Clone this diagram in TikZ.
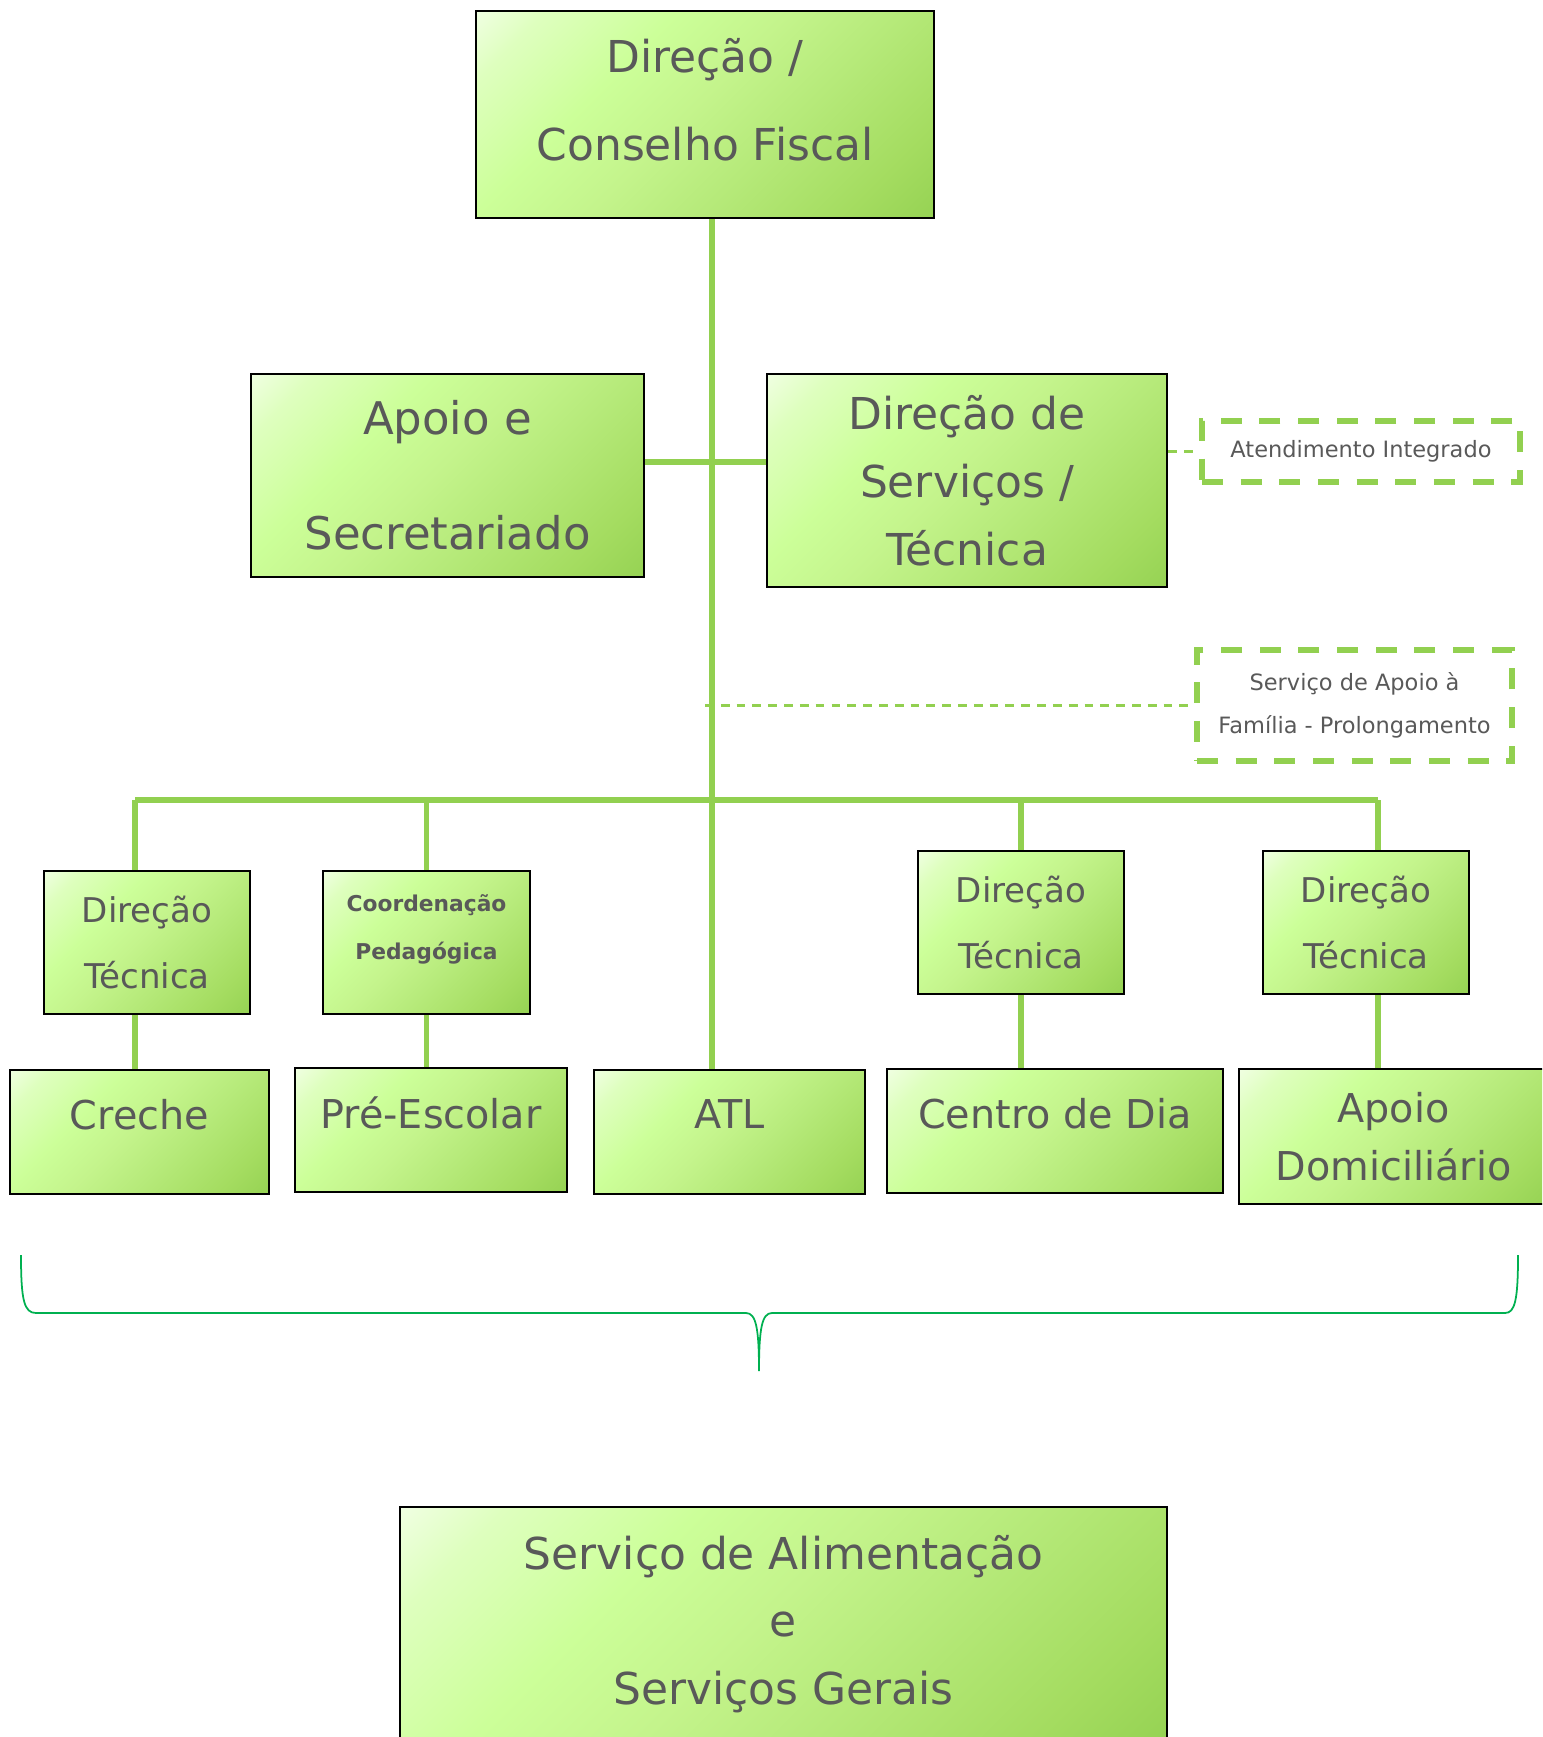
\documentclass[tikz,border=0pt]{standalone}
\usepackage{fontspec}
\setmainfont{DejaVu Sans}
\setsansfont{DejaVu Sans}
\usepackage{xcolor}
\definecolor{lineGreen}{HTML}{92D050}
\definecolor{braceGreen}{HTML}{00B050}
\definecolor{boxLight}{HTML}{F6FFEE}
\definecolor{boxSoft}{HTML}{DEFFBE}
\definecolor{boxPale}{HTML}{CCFF99}
\definecolor{boxMid}{HTML}{C4F48C}
\definecolor{boxLow}{HTML}{B6EA7A}
\definecolor{boxDeep}{HTML}{A4DC60}
\definecolor{boxDark}{HTML}{92D050}
\definecolor{darkText}{HTML}{595959}
\usepackage{tikz}
\usetikzlibrary{calc}
% diagonal fade of the boxes, white corner top left
\pgfdeclareverticalshading{boxfade}{100bp}{color(0bp)=(boxDark); color(12bp)=(boxDark);
    color(24bp)=(boxDeep); color(40bp)=(boxLow); color(52bp)=(boxMid);
    color(64bp)=(boxPale); color(78bp)=(boxSoft); color(88bp)=(boxLight);
    color(100bp)=(boxLight)}
\tikzset{
    % Base style for all boxes
    unit base/.style={
        rectangle,
        align=center,
        text=darkText,
        inner sep=0pt,
    },
    % Green gradient boxes
    unit/.style={
        unit base,
        draw=black,
        line width=0.8pt,
        shade,
        shading=boxfade,
        shading angle=45,
    },
    % Dashed boxes without fill
    side unit/.style={
        unit base,
        draw=lineGreen,
        line width=1.5pt,
        dash pattern=on 6pt off 5pt,
        font=\fontsize{6.4}{12.3}\selectfont,
    },
    % Box size in page pixels (0.1mm each)
    box size/.style 2 args={
        minimum width=#1*0.1mm,
        minimum height=#2*0.1mm,
    },
    % Single line text sitting high in its box
    high text/.style={text depth=10pt},
    % Plain connector
    link/.style={
        draw=lineGreen,
        line width=1.5pt,
    },
    % Dashed connector
    link dashed/.style={
        draw=lineGreen,
        line width=0.6pt,
        dash pattern=on 2.5pt off 2pt,
    },
    % Brace under the services
    brace line/.style={
        draw=braceGreen,
        line width=0.5pt,
    },
}

\begin{document}
\begin{tikzpicture}[x=0.1mm, y=-0.1mm]
    \useasboundingbox (0,0) rectangle (1542,1737);
    \clip (0,0) rectangle (1542,1737);

    % top levels
    \node (top) [unit, box size={458}{207}, font=\fontsize{12.5}{25}\selectfont] at (705,114.5) {Direção /\\Conselho Fiscal\\[-16.2pt]};
    \node (apoio) [unit, box size={393}{203}, font=\fontsize{12.8}{32.7}\selectfont] at (447.5,475.5) {Apoio e\\Secretariado};
    \node (dirserv) [unit, box size={400}{213}, font=\fontsize{12.5}{19.3}\selectfont] at (967,480.5) {Direção de\\Serviços /\\Técnica};
    \node (atend) [side unit, box size={318}{61}] at (1361,451.5) {Atendimento Integrado};
    \node (servico) [side unit, box size={315}{111}] at (1354.5,705.5) {Serviço de Apoio à\\Família - Prolongamento};

    % technical directions
    \node (dt1) [unit, box size={206}{143}, font=\fontsize{9.7}{18.8}\selectfont] at (147,942.5) {Direção\\Técnica};
    \node (pedag) [unit, box size={207}{143}, font=\bfseries\fontsize{6.2}{13.6}\selectfont] at (426.5,942.5) {Coordenação\\Pedagógica\\[-4.8pt]};
    \node (dt3) [unit, box size={206}{143}, font=\fontsize{9.7}{18.8}\selectfont] at (1021,922.5) {Direção\\Técnica};
    \node (dt4) [unit, box size={206}{143}, font=\fontsize{9.7}{18.8}\selectfont] at (1366,922.5) {Direção\\Técnica};

    % services
    \node (creche) [unit, box size={259}{124}, font=\fontsize{11.3}{16.5}\selectfont, high text] at (139.5,1132) {Creche};
    \node (preesc) [unit, box size={272}{124}, font=\fontsize{11.3}{16.5}\selectfont, high text] at (431,1130) {Pré-Escolar};
    \node (atl) [unit, box size={271}{124}, font=\fontsize{11.3}{16.5}\selectfont, high text] at (729.5,1132) {ATL};
    \node (centro) [unit, box size={336}{124}, font=\fontsize{11.3}{16.5}\selectfont, high text] at (1055,1131) {Centro de Dia};
    \node (apoiodom) [unit, box size={309}{135}, font=\fontsize{11.3}{16.5}\selectfont] at (1393.5,1136.5) {Apoio\\Domiciliário};

    % shared services
    \node (geral) [unit, box size={767}{234}, font=\fontsize{12.5}{19.3}\selectfont] at (783.5,1624) {Serviço de Alimentação\\e\\Serviços Gerais};

    % junctions
    \coordinate (trunk) at (712,800);
    \coordinate (mid) at (712,462);
    \coordinate (c1) at (135,800);
    \coordinate (c5) at (1378,800);

    \draw [link] (top.south -| trunk) -- (atl.north -| trunk);
    \draw [link] (apoio.east |- mid) -- (dirserv.west |- mid);
    \draw [link] (c1) -- (c5);
    \draw [link] (c1) -- (dt1.north -| c1);
    \draw [link] (dt1.south -| c1) -- (creche.north -| c1);
    \draw [link] (pedag.north |- c1) -- (pedag.north);
    \draw [link] (pedag.south) -- (pedag.south |- preesc.north);
    \draw [link] (dt3.north |- c1) -- (dt3.north);
    \draw [link] (dt3.south) -- (dt3.south |- centro.north);
    \draw [link] (c5) -- (dt4.north -| c5);
    \draw [link] (dt4.south -| c5) -- (apoiodom.north -| c5);
    \draw [link dashed] (dirserv.east |- atend.west) -- (atend.west);
    \draw [link dashed] ([xshift=-2pt]servico.west -| trunk) -- (servico.west);

    % brace
    \draw [brace line] (21,1255) .. controls (21,1300) and (24,1313) .. (36,1313)
        -- (746,1313) .. controls (756,1313) and (759,1328) .. (759,1371)
        .. controls (759,1328) and (762,1313) .. (772,1313)
        -- (1505,1313) .. controls (1515,1313) and (1518,1300) .. (1518,1255);
\end{tikzpicture}
\end{document}
